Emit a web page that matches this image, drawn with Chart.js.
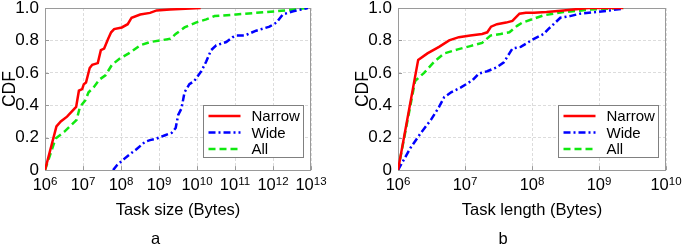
<!DOCTYPE html>
<html><head><meta charset="utf-8">
<script src="https://cdn.jsdelivr.net/npm/chart.js@4.4.0/dist/chart.umd.min.js"></script>
<style>
html,body{margin:0;padding:0;background:#fff;}
#wrap{position:relative;width:685px;height:245px;overflow:hidden;}
#c1{position:absolute;left:0;top:0;}
#c2{position:absolute;left:340px;top:0;}
</style></head><body>
<div id="wrap"><canvas id="c1" width="340" height="245"></canvas><canvas id="c2" width="345" height="245"></canvas></div>
<script>
// ---- data ----
const seriesLabels = ['Narrow', 'Wide', 'All'];
const yTickValues = [0, 0.2, 0.4, 0.6, 0.8, 1.0];
const yTickLabels = ['0', '0.2', '0.4', '0.6', '0.8', '1.0'];
const sizeExponents = [6, 7, 8, 9, 10, 11, 12, 13];
const lengthExponents = [6, 7, 8, 9, 10];
const panelLetters = ['a', 'b'];
const xTitles = ['Task size (Bytes)', 'Task length (Bytes)'];

// (a) Task size
const sizeNarrowX = [1e6, 2.0e6, 2.6e6, 3.8e6, 6.6e6, 7.8e6, 9.5e6, 1.05e7, 1.2e7, 1.5e7, 1.75e7, 2.45e7, 2.95e7, 3.6e7, 4.6e7, 5.5e7, 6.6e7, 1.05e8, 1.5e8, 1.9e8, 3.2e8, 5.8e8, 8.7e8, 1.95e9, 1.25e10];
const sizeNarrowY = [0, 0.27, 0.30, 0.33, 0.39, 0.49, 0.50, 0.53, 0.54, 0.63, 0.65, 0.66, 0.74, 0.75, 0.81, 0.85, 0.87, 0.88, 0.90, 0.94, 0.96, 0.97, 0.985, 0.99, 1.0];
const sizeWideX = [6.2e7, 7.8e7, 1.17e8, 1.75e8, 2.6e8, 4.3e8, 5.8e8, 8.7e8, 1.45e9, 2.15e9, 2.75e9, 3.2e9, 3.9e9, 4.7e9, 6.3e9, 8.5e9, 1.3e10, 1.75e10, 2.35e10, 3.2e10, 5.9e10, 8.7e10, 1.07e11, 1.8e11, 3.6e11, 8.1e11, 1.23e12, 1.8e12, 3.4e12, 8.3e12];
const sizeWideY = [0, 0.03, 0.066, 0.10, 0.13, 0.175, 0.185, 0.195, 0.215, 0.23, 0.26, 0.34, 0.38, 0.48, 0.53, 0.55, 0.61, 0.67, 0.74, 0.77, 0.79, 0.82, 0.83, 0.83, 0.86, 0.885, 0.91, 0.96, 0.98, 1.0];
const sizeAllX = [1e6, 1.9e6, 3.2e6, 6.8e6, 8.3e6, 1.15e7, 1.4e7, 1.9e7, 2.75e7, 3.9e7, 5.8e7, 9.5e7, 1.6e8, 3.2e8, 5.8e8, 1.07e9, 2.0e9, 2.75e9, 4.7e9, 9.3e9, 1.75e10, 2.9e10, 1.07e11, 3.6e11, 1.23e12, 3.4e12, 8.3e12];
const sizeAllY = [0, 0.195, 0.236, 0.31, 0.39, 0.43, 0.48, 0.51, 0.56, 0.585, 0.65, 0.69, 0.72, 0.77, 0.79, 0.80, 0.81, 0.84, 0.88, 0.91, 0.93, 0.95, 0.96, 0.97, 0.98, 0.99, 1.0];

// (b) Task length
const lengthNarrowX = [1e6, 2.0e6, 2.75e6, 4.1e6, 5.8e6, 8.1e6, 1.2e7, 1.8e7, 2.15e7, 2.45e7, 3.0e7, 4.1e7, 5.1e7, 6.5e7, 8.1e7, 1.07e8, 1.65e8, 2.95e8, 6.9e8, 2.3e9];
const lengthNarrowY = [0, 0.68, 0.72, 0.76, 0.80, 0.82, 0.83, 0.84, 0.85, 0.885, 0.90, 0.91, 0.92, 0.965, 0.97, 0.97, 0.975, 0.985, 1.0, 1.0];
const lengthWideX = [1e6, 1.55e6, 2.2e6, 3.1e6, 4.1e6, 4.9e6, 6.2e6, 8.7e6, 1.3e7, 1.6e7, 2.15e7, 3.0e7, 3.8e7, 4.6e7, 5.1e7, 6.8e7, 8.5e7, 1.07e8, 1.5e8, 1.75e8, 2.1e8, 2.65e8, 3.7e8, 5.2e8, 9.1e8, 1.45e9, 2.2e9];
const lengthWideY = [0, 0.14, 0.23, 0.31, 0.39, 0.45, 0.48, 0.51, 0.555, 0.595, 0.61, 0.635, 0.665, 0.72, 0.75, 0.76, 0.785, 0.81, 0.84, 0.87, 0.90, 0.94, 0.95, 0.965, 0.975, 0.985, 0.995];
const lengthAllX = [1e6, 1.8e6, 2.45e6, 3.5e6, 4.9e6, 7.8e6, 1.2e7, 1.8e7, 2.4e7, 3.4e7, 4.6e7, 6.0e7, 7.2e7, 1.07e8, 1.5e8, 2.95e8, 7.4e8, 2.3e9];
const lengthAllY = [0, 0.55, 0.60, 0.67, 0.72, 0.745, 0.765, 0.785, 0.83, 0.84, 0.85, 0.89, 0.91, 0.935, 0.955, 0.975, 0.99, 1.0];

// ---- rendering ----
const FONT = '"Liberation Sans", Arial, Helvetica, sans-serif';
const colors = ['#ff0000', '#0000ff', '#10e810'];
const dashes = [[], [7, 3, 2, 3], [7, 4]];
const toPts = (xs, ys) => xs.map((x, i) => ({ x: x, y: ys[i] }));

const decorPlugin = {
  id: 'decor',
  beforeDatasetsDraw(chart) {
    const { ctx, chartArea: a, scales } = chart;
    ctx.save();
    ctx.strokeStyle = '#9a9a9a';
    ctx.lineWidth = 1;
    ctx.beginPath();
    scales.y.ticks.forEach(t => {
      const py = Math.round(scales.y.getPixelForValue(t.value)) + 0.5;
      ctx.moveTo(a.left, py); ctx.lineTo(a.left + 4, py);
    });
    scales.x.ticks.forEach(t => {
      const px = Math.round(scales.x.getPixelForValue(t.value)) + 0.5;
      ctx.moveTo(px, a.bottom); ctx.lineTo(px, a.bottom - 4);
    });
    ctx.stroke();
    ctx.strokeRect(Math.round(a.left) + 0.5, Math.round(a.top) + 0.5, Math.round(a.width) - 1, Math.round(a.height));
    ctx.restore();
  },
  afterDraw(chart) {
    const { ctx, chartArea: a, scales } = chart;
    // x tick labels: base "10" with raised exponent
    ctx.save();
    ctx.fillStyle = '#000';
    ctx.textBaseline = 'alphabetic';
    ctx.textAlign = 'left';
    scales.x.ticks.forEach(t => {
      const px = scales.x.getPixelForValue(t.value);
      const e = String(Math.round(Math.log10(t.value)));
      ctx.font = '16.5px ' + FONT;
      const wb = ctx.measureText('10').width;
      ctx.font = '11.5px ' + FONT;
      const we = ctx.measureText(e).width;
      const x0 = px - (wb + we) / 2;
      const base = a.bottom + 20;
      ctx.font = '16.5px ' + FONT;
      ctx.fillText('10', x0, base);
      ctx.font = '11.5px ' + FONT;
      ctx.fillText(e, x0 + wb, base - 5.5);
    });
    ctx.restore();
    // legend
    const w = 100, h = 52;
    const x = Math.round(a.right - 8 - w) + 0.5, y = Math.round(a.bottom - 13 - h) + 0.5;
    ctx.save();
    ctx.fillStyle = '#fff';
    ctx.fillRect(x, y, w, h);
    ctx.strokeStyle = '#808080';
    ctx.lineWidth = 1;
    ctx.strokeRect(x, y, w, h);
    chart.data.datasets.forEach((ds, i) => {
      const ry = y + 10.5 + i * 16.5;
      ctx.strokeStyle = ds.borderColor;
      ctx.lineWidth = 2.5;
      ctx.setLineDash(ds.borderDash || []);
      ctx.beginPath(); ctx.moveTo(x + 5, ry); ctx.lineTo(x + 37, ry); ctx.stroke();
      ctx.setLineDash([]);
      ctx.fillStyle = '#000';
      ctx.font = '15px ' + FONT;
      ctx.textBaseline = 'middle';
      ctx.fillText(ds.label, x + 48, ry + 1);
    });
    ctx.restore();
  }
};

function makeChart(canvasId, series, exps, yWidth, padRight, cdfPad, xTitle, letter) {
  const datasets = series.map((s, i) => ({
    label: seriesLabels[i],
    data: toPts(s[0], s[1]),
    borderColor: colors[i],
    backgroundColor: colors[i],
    borderWidth: 2.5,
    borderDash: dashes[i],
    pointRadius: 0,
    tension: 0,
    fill: false
  }));
  return new Chart(document.getElementById(canvasId), {
    type: 'line',
    data: { datasets },
    plugins: [decorPlugin],
    options: {
      responsive: false, animation: false, devicePixelRatio: 1,
      layout: { padding: { left: 0, right: padRight, top: 8, bottom: 0 } },
      plugins: {
        legend: { display: false }, tooltip: { enabled: false },
        title: { display: true, position: 'bottom', text: letter, color: '#000',
                 font: { family: FONT, size: 16.5, weight: 'normal', lineHeight: 0.66 }, padding: { top: 14, bottom: 0 } }
      },
      scales: {
        x: {
          type: 'logarithmic', min: 10 ** exps[0], max: 10 ** exps[exps.length - 1],
          afterBuildTicks: s => { s.ticks = exps.map(e => ({ value: 10 ** e })); },
          afterFit: s => { s.height = 50; s.paddingLeft = 0; s.paddingRight = 0; },
          ticks: { display: false, autoSkip: false, maxRotation: 0, minRotation: 0 },
          grid: { color: '#dcdcdc', drawTicks: false, borderDash: [3, 2] },
          border: { display: false, dash: [3, 2] },
          title: { display: true, text: xTitle, color: '#000', padding: 0,
                   font: { family: FONT, size: 16.5, lineHeight: 1.2 } }
        },
        y: {
          min: 0, max: 1,
          afterBuildTicks: s => { s.ticks = yTickValues.map(v => ({ value: v })); },
          afterFit: s => { s.width = yWidth; s.paddingTop = 0; s.paddingBottom = 0; },
          ticks: { padding: 6, color: '#000', font: { family: FONT, size: 17 },
                   callback: (v, i) => yTickLabels[i] },
          grid: { color: '#dcdcdc', drawTicks: false, borderDash: [3, 2] },
          border: { display: false, dash: [3, 2] },
          title: { display: true, text: 'CDF', color: '#000', padding: { top: cdfPad, bottom: 0 },
                   font: { family: FONT, size: 17.5, lineHeight: 1.2 } }
        }
      }
    }
  });
}

makeChart('c1', [[sizeNarrowX, sizeNarrowY], [sizeWideX, sizeWideY], [sizeAllX, sizeAllY]],
          sizeExponents, 45, 29, 0, xTitles[0], panelLetters[0]);
makeChart('c2', [[lengthNarrowX, lengthNarrowY], [lengthWideX, lengthWideY], [lengthAllX, lengthAllY]],
          lengthExponents, 58, 19, 13, xTitles[1], panelLetters[1]);
</script>
</body></html>
